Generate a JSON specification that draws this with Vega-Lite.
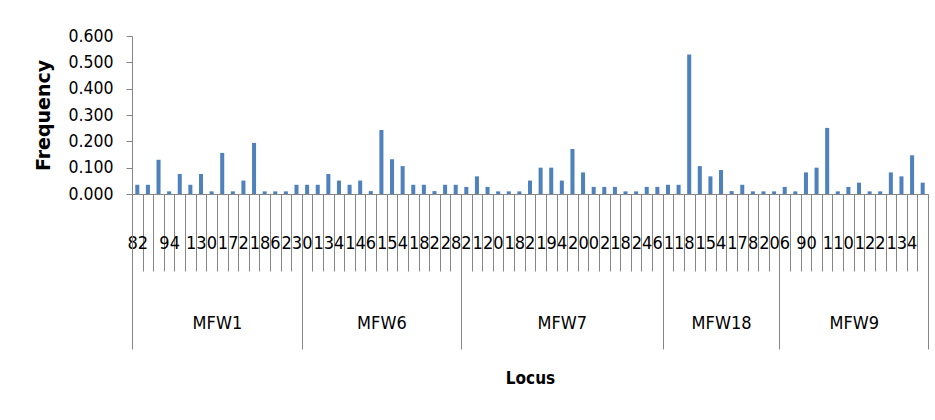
{
  "$schema": "https://vega.github.io/schema/vega-lite/v6.json",
  "width": 796,
  "height": 158,
  "autosize": {"type": "none"},
  "padding": {"left": 132, "top": 36, "right": 7, "bottom": 226},
  "background": "white",
  "config": {"view": {"stroke": null}, "font": "DejaVu Sans Condensed, Roboto, sans-serif"},
  "datasets": {
    "alleles": [
      {"key": "00|82", "locus": "MFW1", "freq": 0.035},
      {"key": "01|", "locus": "MFW1", "freq": 0.035},
      {"key": "02|", "locus": "MFW1", "freq": 0.130},
      {"key": "03|94", "locus": "MFW1", "freq": 0.010},
      {"key": "04|", "locus": "MFW1", "freq": 0.076},
      {"key": "05|", "locus": "MFW1", "freq": 0.035},
      {"key": "06|130", "locus": "MFW1", "freq": 0.076},
      {"key": "07|", "locus": "MFW1", "freq": 0.010},
      {"key": "08|", "locus": "MFW1", "freq": 0.156},
      {"key": "09|172", "locus": "MFW1", "freq": 0.010},
      {"key": "10|", "locus": "MFW1", "freq": 0.051},
      {"key": "11|", "locus": "MFW1", "freq": 0.194},
      {"key": "12|186", "locus": "MFW1", "freq": 0.010},
      {"key": "13|", "locus": "MFW1", "freq": 0.010},
      {"key": "14|", "locus": "MFW1", "freq": 0.010},
      {"key": "15|230", "locus": "MFW1", "freq": 0.035},
      {"key": "16|", "locus": "MFW6", "freq": 0.035},
      {"key": "17|", "locus": "MFW6", "freq": 0.035},
      {"key": "18|134", "locus": "MFW6", "freq": 0.076},
      {"key": "19|", "locus": "MFW6", "freq": 0.051},
      {"key": "20|", "locus": "MFW6", "freq": 0.035},
      {"key": "21|146", "locus": "MFW6", "freq": 0.051},
      {"key": "22|", "locus": "MFW6", "freq": 0.011},
      {"key": "23|", "locus": "MFW6", "freq": 0.243},
      {"key": "24|154", "locus": "MFW6", "freq": 0.132},
      {"key": "25|", "locus": "MFW6", "freq": 0.106},
      {"key": "26|", "locus": "MFW6", "freq": 0.035},
      {"key": "27|182", "locus": "MFW6", "freq": 0.035},
      {"key": "28|", "locus": "MFW6", "freq": 0.011},
      {"key": "29|", "locus": "MFW6", "freq": 0.035},
      {"key": "30|282", "locus": "MFW6", "freq": 0.035},
      {"key": "31|", "locus": "MFW7", "freq": 0.027},
      {"key": "32|", "locus": "MFW7", "freq": 0.067},
      {"key": "33|120", "locus": "MFW7", "freq": 0.027},
      {"key": "34|", "locus": "MFW7", "freq": 0.010},
      {"key": "35|", "locus": "MFW7", "freq": 0.010},
      {"key": "36|182", "locus": "MFW7", "freq": 0.010},
      {"key": "37|", "locus": "MFW7", "freq": 0.051},
      {"key": "38|", "locus": "MFW7", "freq": 0.100},
      {"key": "39|194", "locus": "MFW7", "freq": 0.100},
      {"key": "40|", "locus": "MFW7", "freq": 0.051},
      {"key": "41|", "locus": "MFW7", "freq": 0.171},
      {"key": "42|200", "locus": "MFW7", "freq": 0.082},
      {"key": "43|", "locus": "MFW7", "freq": 0.027},
      {"key": "44|", "locus": "MFW7", "freq": 0.027},
      {"key": "45|218", "locus": "MFW7", "freq": 0.027},
      {"key": "46|", "locus": "MFW7", "freq": 0.010},
      {"key": "47|", "locus": "MFW7", "freq": 0.010},
      {"key": "48|246", "locus": "MFW7", "freq": 0.027},
      {"key": "49|", "locus": "MFW7", "freq": 0.027},
      {"key": "50|", "locus": "MFW18", "freq": 0.035},
      {"key": "51|118", "locus": "MFW18", "freq": 0.035},
      {"key": "52|", "locus": "MFW18", "freq": 0.530},
      {"key": "53|", "locus": "MFW18", "freq": 0.106},
      {"key": "54|154", "locus": "MFW18", "freq": 0.067},
      {"key": "55|", "locus": "MFW18", "freq": 0.091},
      {"key": "56|", "locus": "MFW18", "freq": 0.011},
      {"key": "57|178", "locus": "MFW18", "freq": 0.035},
      {"key": "58|", "locus": "MFW18", "freq": 0.010},
      {"key": "59|", "locus": "MFW18", "freq": 0.010},
      {"key": "60|206", "locus": "MFW18", "freq": 0.010},
      {"key": "61|", "locus": "MFW9", "freq": 0.027},
      {"key": "62|", "locus": "MFW9", "freq": 0.010},
      {"key": "63|90", "locus": "MFW9", "freq": 0.082},
      {"key": "64|", "locus": "MFW9", "freq": 0.100},
      {"key": "65|", "locus": "MFW9", "freq": 0.251},
      {"key": "66|110", "locus": "MFW9", "freq": 0.010},
      {"key": "67|", "locus": "MFW9", "freq": 0.027},
      {"key": "68|", "locus": "MFW9", "freq": 0.043},
      {"key": "69|122", "locus": "MFW9", "freq": 0.010},
      {"key": "70|", "locus": "MFW9", "freq": 0.010},
      {"key": "71|", "locus": "MFW9", "freq": 0.082},
      {"key": "72|134", "locus": "MFW9", "freq": 0.067},
      {"key": "73|", "locus": "MFW9", "freq": 0.147},
      {"key": "74|", "locus": "MFW9", "freq": 0.043}
    ],
    "loci": [
      {"locus": "MFW1", "start": 0, "end": 16},
      {"locus": "MFW6", "start": 16, "end": 31},
      {"locus": "MFW7", "start": 31, "end": 50},
      {"locus": "MFW18", "start": 50, "end": 61},
      {"locus": "MFW9", "start": 61, "end": 75}
    ]
  },
  "layer": [
    {
      "data": {"name": "alleles"},
      "mark": {"type": "bar", "color": "#4F81BD", "width": {"band": 0.38}},
      "encoding": {
        "x": {
          "field": "key",
          "type": "ordinal",
          "sort": null,
          "scale": {"paddingInner": 0, "paddingOuter": 0},
          "axis": {
            "title": null,
            "orient": "bottom",
            "labelExpr": "split(datum.value, '|')[1]",
            "labelAngle": 0,
            "labelOverlap": false,
            "labelBound": false,
            "labelFlush": false,
            "labelFontSize": 18,
            "labelColor": "#000000",
            "labelBaseline": "top",
            "labelPadding": -37,
            "tickBand": "extent",
            "tickSize": 77,
            "tickColor": "#868686",
            "domainColor": "#868686",
            "grid": false
          }
        },
        "y": {
          "field": "freq",
          "type": "quantitative",
          "scale": {"domain": [0, 0.6], "nice": false},
          "axis": {
            "title": "Frequency",
            "values": [0, 0.1, 0.2, 0.3, 0.4, 0.5, 0.6],
            "format": ".3f",
            "grid": false,
            "tickSize": 6,
            "tickColor": "#868686",
            "domainColor": "#868686",
            "labelFontSize": 17.5,
            "labelPadding": 13,
            "labelColor": "#000000",
            "titleFont": "DejaVu Sans",
            "titleFontWeight": "bold",
            "titleFontSize": 19,
            "titlePadding": 14,
            "titleColor": "#000000"
          }
        }
      }
    },
    {
      "data": {"name": "loci"},
      "mark": {"type": "rect", "opacity": 0},
      "encoding": {
        "x": {
          "field": "start",
          "type": "quantitative",
          "scale": {"domain": [0, 75], "nice": false, "zero": false},
          "axis": {
            "title": "Locus",
            "orient": "bottom",
            "values": [0, 8, 16, 23.5, 31, 40.5, 50, 55.5, 61, 68, 75],
            "labelExpr": "datum.value == 8 ? 'MFW1' : datum.value == 23.5 ? 'MFW6' : datum.value == 40.5 ? 'MFW7' : datum.value == 55.5 ? 'MFW18' : datum.value == 68 ? 'MFW9' : ''",
            "tickSize": 155,
            "tickOpacity": {"condition": {"test": "indexof([0, 16, 31, 50, 61, 75], datum.value) >= 0", "value": 1}, "value": 0},
            "tickColor": "#868686",
            "domain": false,
            "grid": false,
            "labelAngle": 0,
            "labelOverlap": false,
            "labelBound": false,
            "labelFlush": false,
            "labelFontSize": 18,
            "labelColor": "#000000",
            "labelBaseline": "top",
            "labelPadding": -35,
            "titleFontSize": 17,
            "titleFontWeight": "bold",
            "titleColor": "#000000",
            "titlePadding": 21
          }
        },
        "x2": {"field": "end"}
      }
    }
  ],
  "resolve": {"scale": {"x": "independent"}, "axis": {"x": "independent"}}
}
